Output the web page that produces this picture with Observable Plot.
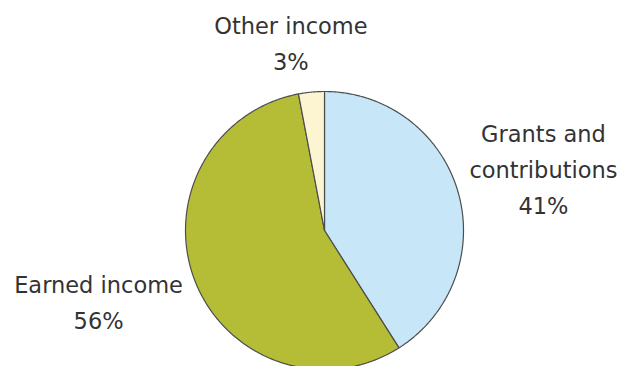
<!DOCTYPE html>
<html><head><meta charset="utf-8">
<script src="https://cdn.jsdelivr.net/npm/d3@7"></script>
<script src="https://cdn.jsdelivr.net/npm/@observablehq/plot@0.6"></script>
<style>html,body{margin:0;padding:0;background:#fff;overflow:hidden}</style>
</head><body><div id="chart"></div>
<script>
// Data
const categories = ["Grants and contributions", "Earned income", "Other income"];
const labelText = ["Grants and\ncontributions", "Earned income", "Other income"];
const shares = [41, 56, 3];
const colors = ["#c7e6f8", "#b5bd37", "#fdf5d2"];

// Layout
const W = 623, H = 366;
const cx = 324, cy = 230, R = 139;
const labelLayout = [
  {r: 228, dx: 0, dy: 0},
  {r: 243, dx: 0, dy: -20},
  {r: 187, dx: -16, dy: -4}
];

const data = categories.map((c, i) => ({category: c, value: shares[i], label: labelText[i]}));
const arcs = d3.pie().sort(null).value(d => d.value)(data);

const slices = arcs.map(a => {
  const n = Math.max(4, Math.ceil((a.endAngle - a.startAngle) / (Math.PI / 360)));
  const ring = [[cx, cy]];
  for (let k = 0; k <= n; k++) {
    const t = a.startAngle + (a.endAngle - a.startAngle) * k / n;
    ring.push([cx + R * Math.sin(t), cy - R * Math.cos(t)]);
  }
  ring.push([cx, cy]);
  return {type: "Feature", properties: {category: a.data.category}, geometry: {type: "Polygon", coordinates: [ring]}};
});

const labels = arcs.map((a, i) => {
  const t = (a.startAngle + a.endAngle) / 2;
  const L = labelLayout[i];
  return {
    x: cx + L.r * Math.sin(t) + L.dx,
    y: cy - L.r * Math.cos(t) + L.dy,
    text: a.data.label + "\n" + a.data.value + "%"
  };
});

const chart = Plot.plot({
  width: W, height: H,
  margin: 0,
  projection: {type: "identity"},
  color: {domain: categories, range: colors},
  style: {fontFamily: "'DejaVu Sans', sans-serif", background: "#fff"},
  marks: [
    Plot.geo(slices, {fill: d => d.properties.category, stroke: "#4d4d4d", strokeWidth: 1.2}),
    Plot.text(labels, {x: "x", y: "y", text: "text", fontSize: 22.5, lineHeight: 1.6, lineAnchor: "middle", textAnchor: "middle", fill: "#333333"})
  ]
});
document.getElementById("chart").appendChild(chart);
</script>
</body></html>
